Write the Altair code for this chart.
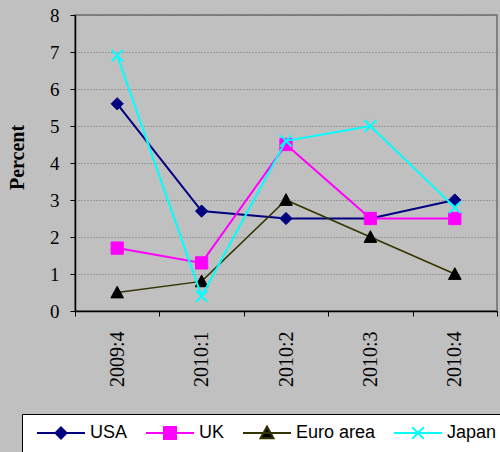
import altair as alt
import pandas as pd

# Quarterly values, percent
quarters = ["2009:4", "2010:1", "2010:2", "2010:3", "2010:4"]
series_names = ["USA", "UK", "Euro area", "Japan"]
usa = [5.6, 2.7, 2.5, 2.5, 3.0]
uk = [1.7, 1.3, 4.5, 2.5, 2.5]
euro_area = [0.5, 0.8, 3.0, 2.0, 1.0]
japan = [6.9, 0.4, 4.6, 5.0, 2.8]

values = {"USA": usa, "UK": uk, "Euro area": euro_area, "Japan": japan}
rows = []
for name in series_names:
    for q, v in zip(quarters, values[name]):
        rows.append({"series": name, "quarter": q, "value": v})
df = pd.DataFrame(rows)

# Line / marker styling per series
line_colors = {"USA": "#000080", "UK": "#FF00FF", "Euro area": "#333300", "Japan": "#00FFFF"}
marker_fill = {"USA": "#000080", "UK": "#FF00FF", "Euro area": "#000000", "Japan": "transparent"}
marker_stroke = {"USA": "#000080", "UK": "#FF00FF", "Euro area": "#000000", "Japan": "#00FFFF"}
line_widths = {"USA": 2, "UK": 2, "Euro area": 1.5, "Japan": 2}
marker_paths = {
    "USA": "M0,-1L1,0L0,1L-1,0Z",
    "UK": "M-1,-1H1V1H-1Z",
    "Euro area": "M0,-1L1,0.85H-1Z",
    "Japan": "M-1,-1L1,1M-1,1L1,-1",
}
marker_sizes = {"USA": 150, "UK": 150, "Euro area": 160, "Japan": 130}
# legend keys: a short line with the marker in the middle
legend_paths = [
    "M-1,0H1M0,-0.23L0.23,0L0,0.23L-0.23,0Z",
    "M-1,0H1M-0.25,-0.25H0.25V0.25H-0.25Z",
    "M-1,0H1M0,-0.27L0.27,0.22H-0.27Z",
    "M-1,0H1M-0.24,-0.24L0.24,0.24M-0.24,0.24L0.24,-0.24",
]

x_enc = alt.X(
    "quarter:O",
    sort=quarters,
    scale=alt.Scale(type="band", domain=quarters, paddingInner=0, paddingOuter=0),
    axis=alt.Axis(
        title=None,
        labelAngle=-90,
        labelAlign="right",
        labelBaseline="middle",
        labelFont="Liberation Serif",
        labelFontSize=20,
        labelColor="black",
        labelPadding=15,
        tickBand="extent",
        tickSize=5,
        tickColor="black",
        domainColor="black",
        domainWidth=1.5,
        grid=False,
    ),
)
y_enc = alt.Y(
    "value:Q",
    scale=alt.Scale(domain=[0, 8], nice=False, zero=True),
    axis=alt.Axis(
        title="Percent",
        titleFont="Liberation Serif",
        titleFontSize=20,
        titleFontWeight="bold",
        titleColor="black",
        titleX=-58,
        titleY=142,
        titleAlign="center",
        titleBaseline="middle",
        values=[0, 1, 2, 3, 4, 5, 6, 7, 8],
        labelFont="Liberation Serif",
        labelFontSize=19,
        labelColor="black",
        labelPadding=11,
        tickSize=5,
        tickColor="black",
        domainColor="black",
        domainWidth=1.5,
        grid=True,
        gridColor="#707070",
        gridDash=[1, 2],
        gridWidth=1,
    ),
)

base = alt.Chart(df)
layers = []
for name in series_names:
    sub = base.transform_filter(alt.datum.series == name)
    layers.append(
        sub.mark_line(color=line_colors[name], strokeWidth=line_widths[name]).encode(x=x_enc, y=y_enc)
    )
    layers.append(
        sub.mark_point(
            shape=marker_paths[name],
            size=marker_sizes[name],
            fill=marker_fill[name],
            stroke=marker_stroke[name],
            strokeWidth=2 if name == "Japan" else 1,
            opacity=1,
            fillOpacity=1,
        ).encode(x=x_enc, y=y_enc)
    )

legend_def = alt.Legend(
    title=None,
    orient="none",
    legendX=-53,
    legendY=399,
    direction="horizontal",
    columns=4,
    columnPadding=13,
    padding=10,
    clipHeight=18,
    symbolOffset=4,
    symbolSize=2304,
    symbolStrokeWidth=2,
    labelOffset=4,
    labelFont="Liberation Sans",
    labelFontSize=18,
    labelColor="black",
    fillColor="white",
    strokeColor="black",
)

legend_layer = base.transform_filter("false").mark_point(size=2304, opacity=1, strokeWidth=2).encode(
    fill=alt.Fill(
        "series:N",
        scale=alt.Scale(domain=series_names, range=[marker_fill[n] for n in series_names]),
        legend=legend_def,
    ),
    stroke=alt.Stroke(
        "series:N",
        scale=alt.Scale(domain=series_names, range=[line_colors[n] for n in series_names]),
        legend=legend_def,
    ),
    shape=alt.Shape(
        "series:N",
        scale=alt.Scale(domain=series_names, range=legend_paths),
        legend=legend_def,
    ),
)

chart = (
    alt.layer(*layers, legend_layer)
    .properties(
        width=422,
        height=296,
        background="#C0C0C0",
        autosize=alt.AutoSizeParams(type="none"),
        padding={"left": 75, "top": 15, "right": 3, "bottom": 141},
    )
    .configure_view(fill="white", stroke="#808080", strokeWidth=2)
)

chart.save("out.html", embed_options={"renderer": "svg", "actions": False})
